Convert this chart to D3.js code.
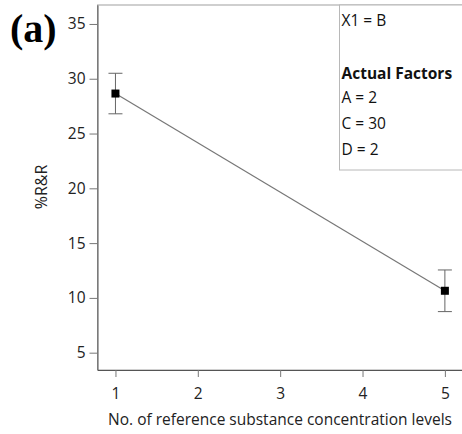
<!DOCTYPE html>
<html>
<head>
<meta charset="utf-8">
<script src="https://cdn.jsdelivr.net/npm/d3@7"></script>
<style>
  body { margin: 0; background: #fff; }
  text { font-family: "Open Sans", "Noto Sans", sans-serif; }
</style>
</head>
<body>
<div id="chart"></div>
<script>
// Data
const levels = [1, 5];
const means = [28.65, 10.65];
const upper = [30.5, 12.55];
const lower = [26.8, 8.75];
const xTicks = [1, 2, 3, 4, 5];
const yTicks = [5, 10, 15, 20, 25, 30, 35];
const factorLines = ["A = 2", "C = 30", "D = 2"];

const W = 462, H = 434;
const margin = { top: 5, right: -1, bottom: 64, left: 97.5 };
const width = W - margin.left - margin.right;
const height = H - margin.top - margin.bottom;
const fs = 15.5;

const svg = d3.select("#chart").append("svg")
    .attr("width", W)
    .attr("height", H);

const g = svg.append("g")
    .attr("transform", `translate(${margin.left},${margin.top})`);

const x = d3.scaleLinear().domain([0.782, 5.22]).range([0, width]);
const y = d3.scaleLinear().domain([3.42, 36.73]).range([height, 0]);

// frame
g.append("rect")
    .attr("width", width)
    .attr("height", height)
    .attr("fill", "none")
    .attr("stroke", "#a0a0a0")
    .attr("stroke-width", 1);

// axes
const xAxis = g.append("g")
    .attr("transform", `translate(0,${height})`)
    .call(d3.axisBottom(x).tickValues(xTicks).tickFormat(d3.format("d"))
      .tickSize(7).tickSizeOuter(0).tickPadding(11));
const yAxis = g.append("g")
    .call(d3.axisLeft(y).tickValues(yTicks).tickFormat(d3.format("d"))
      .tickSize(8).tickSizeOuter(0).tickPadding(4));

[xAxis, yAxis].forEach(a => {
  a.select(".domain").attr("stroke", "#555");
  a.selectAll(".tick line").attr("stroke", "#777");
  a.selectAll(".tick text")
    .attr("font-size", fs)
    .attr("fill", "#222")
    .style("font-family", '"Open Sans", sans-serif');
});

// axis titles
svg.append("text")
    .attr("x", 280)
    .attr("y", 425)
    .attr("text-anchor", "middle")
    .attr("font-size", fs)
    .attr("fill", "#222")
    .text("No. of reference substance concentration levels");

svg.append("text")
    .attr("transform", "translate(47,187) rotate(-90)")
    .attr("text-anchor", "middle")
    .attr("font-size", 16)
    .attr("fill", "#222")
    .text("%R&R");

// panel label
svg.append("text")
    .attr("x", 10)
    .attr("y", 42)
    .attr("font-size", 40)
    .attr("font-weight", "bold")
    .style("font-family", '"Liberation Serif", "Times New Roman", serif')
    .text("(a)");

// legend box
const legendX = 339.5 - margin.left;
g.append("rect")
    .attr("x", legendX)
    .attr("y", 0)
    .attr("width", width - legendX + 5)
    .attr("height", 170 - margin.top)
    .attr("fill", "#fff")
    .attr("stroke", "#b8b8b8");

const lg = g.append("g").attr("transform", `translate(${legendX + 2},0)`);
lg.append("text").attr("y", 21).attr("font-size", fs).attr("fill", "#111").text("X1 = B");
lg.append("text").attr("y", 74).attr("font-size", fs).attr("font-weight", "bold").attr("fill", "#111").text("Actual Factors");
lg.selectAll(".f")
  .data(factorLines)
  .join("text")
    .attr("class", "f")
    .attr("y", (d, i) => 98 + i * 26)
    .attr("font-size", fs)
    .attr("fill", "#111")
    .text(d => d);

// line between means
const pts = levels.map((l, i) => ({ x: l, m: means[i], hi: upper[i], lo: lower[i] }));
g.append("path")
    .datum(pts)
    .attr("fill", "none")
    .attr("stroke", "#777")
    .attr("stroke-width", 1.2)
    .attr("d", d3.line().x(d => x(d.x)).y(d => y(d.m)));

// error bars
const eb = g.selectAll(".eb").data(pts).join("g").attr("class", "eb");
eb.append("line")
    .attr("x1", d => x(d.x)).attr("x2", d => x(d.x))
    .attr("y1", d => y(d.hi)).attr("y2", d => y(d.lo))
    .attr("stroke", "#666");
eb.append("line")
    .attr("x1", d => x(d.x) - 7).attr("x2", d => x(d.x) + 7)
    .attr("y1", d => y(d.hi)).attr("y2", d => y(d.hi))
    .attr("stroke", "#666");
eb.append("line")
    .attr("x1", d => x(d.x) - 7).attr("x2", d => x(d.x) + 7)
    .attr("y1", d => y(d.lo)).attr("y2", d => y(d.lo))
    .attr("stroke", "#666");
eb.append("rect")
    .attr("x", d => x(d.x) - 4)
    .attr("y", d => y(d.m) - 4)
    .attr("width", 8)
    .attr("height", 8)
    .attr("fill", "#000");
</script>
</body>
</html>
